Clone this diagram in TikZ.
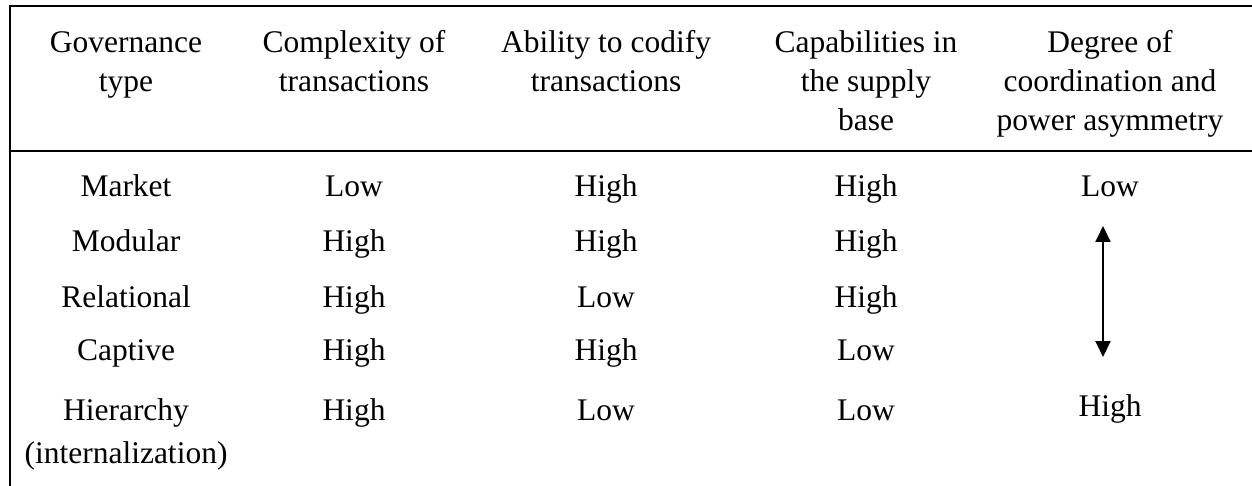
\documentclass[tikz,border=0pt]{standalone}
\usepackage{fontspec}
\setmainfont{Liberation Serif}
\usetikzlibrary{arrows.meta}
\begin{document}
\begin{tikzpicture}[x=1pt,y=-1pt,
  rule/.style={line width=2pt},
  cell/.style={anchor=base,inner sep=0pt,font=\fontsize{31.5}{39}\selectfont},
  updown/.style={line width=2pt,
    {Triangle[length=16pt,width=15pt]}-{Triangle[length=16pt,width=15pt]}},
]
\useasboundingbox (0,0) rectangle (1252,486);

% table rules: top, left edge, below the header
\coordinate (tl) at (10,6);
\coordinate (tr) at (1252,6);
\coordinate (bl) at (10,486);
\coordinate (hl) at (10,151);
\coordinate (hr) at (1252,151);
\draw[rule] (9,6) -- (tr);
\draw[rule] (tl) -- (bl);
\draw[rule] (hl) -- (hr);

% column centres
\def\ca{126}\def\cb{354}\def\cc{606}\def\cd{866}\def\ce{1110}

% header row
\node[cell] (h1) at (\ca,53) {\begin{tabular}[t]{@{}c@{}}Governance\\type\end{tabular}};
\node[cell] (h2) at (\cb,53) {\begin{tabular}[t]{@{}c@{}}Complexity of\\transactions\end{tabular}};
\node[cell] (h3) at (\cc,53) {\begin{tabular}[t]{@{}c@{}}Ability to codify\\transactions\end{tabular}};
\node[cell] (h4) at (\cd,53) {\begin{tabular}[t]{@{}c@{}}Capabilities in\\the supply\\base\end{tabular}};
\node[cell] (h5) at (\ce,53) {\begin{tabular}[t]{@{}c@{}}Degree of\\coordination and\\power asymmetry\end{tabular}};

% body rows
\node[cell] (r1a) at (\ca,197) {Market};
\node[cell] (r1b) at (\cb,197) {Low};
\node[cell] (r1c) at (\cc,197) {High};
\node[cell] (r1d) at (\cd,197) {High};
\node[cell] (r1e) at (\ce,197) {Low};

\node[cell] (r2a) at (\ca,252) {Modular};
\node[cell] (r2b) at (\cb,252) {High};
\node[cell] (r2c) at (\cc,252) {High};
\node[cell] (r2d) at (\cd,252) {High};

\node[cell] (r3a) at (\ca,307) {Relational};
\node[cell] (r3b) at (\cb,307) {High};
\node[cell] (r3c) at (\cc,307) {Low};
\node[cell] (r3d) at (\cd,307) {High};

\node[cell] (r4a) at (\ca,360) {Captive};
\node[cell] (r4b) at (\cb,360) {High};
\node[cell] (r4c) at (\cc,360) {High};
\node[cell] (r4d) at (\cd,360) {Low};

\node[cell,font=\fontsize{31.5}{43}\selectfont] (r5a) at (\ca,420)
  {\begin{tabular}[t]{@{}c@{}}Hierarchy\\(internalization)\end{tabular}};
\node[cell] (r5b) at (\cb,420) {High};
\node[cell] (r5c) at (\cc,420) {Low};
\node[cell] (r5d) at (\cd,420) {Low};
\node[cell] (r5e) at (\ce,416) {High};

% coordination scale arrow
\coordinate (arrtop) at (1103,226);
\coordinate (arrbot) at (1103,357);
\draw[updown] (arrbot) -- (arrtop);
\end{tikzpicture}
\end{document}
